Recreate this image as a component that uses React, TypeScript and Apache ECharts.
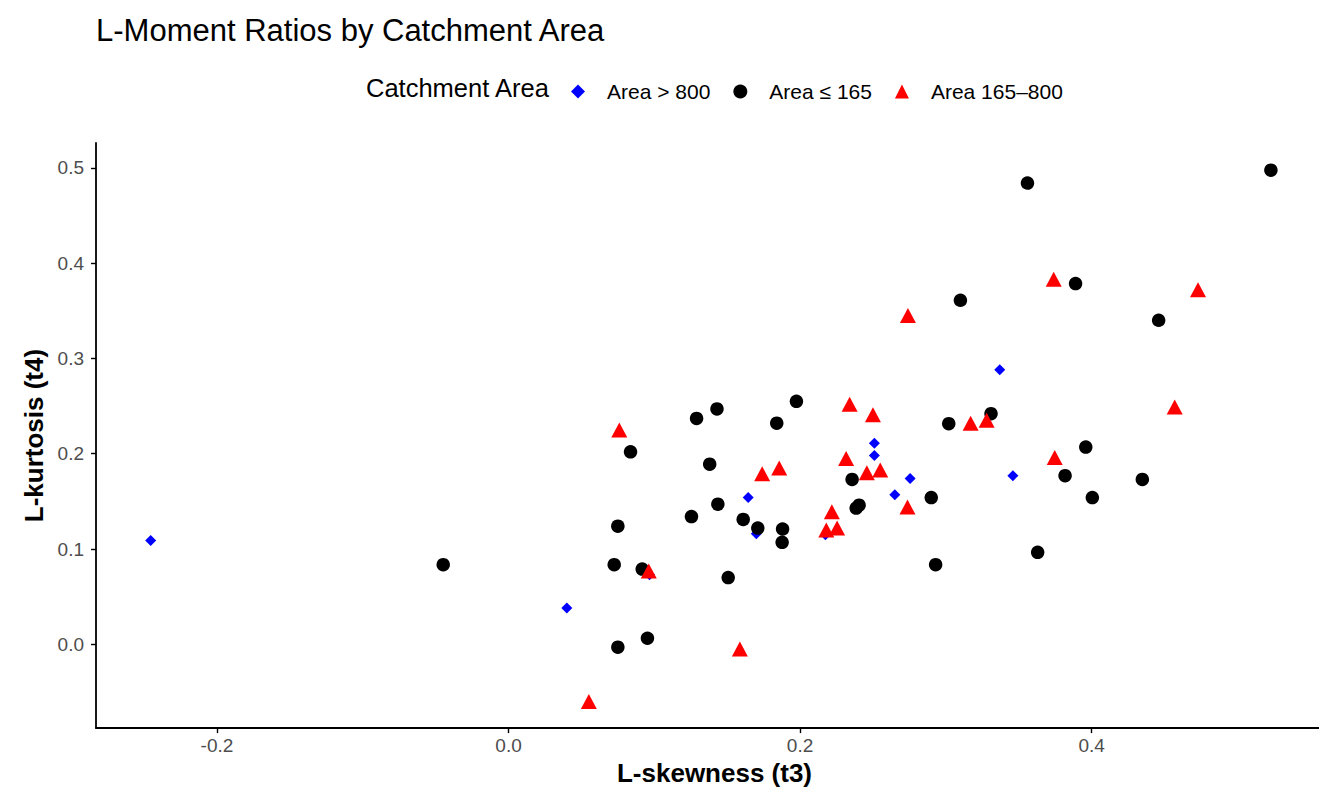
import React, { useEffect, useRef } from "react";
import * as echarts from "echarts";

const seriesNames = ["Area > 800", "Area ≤ 165", "Area 165–800"];

const largeArea: [number, number][] = [
  [-0.2455, 0.109], [0.04, 0.038], [0.0967, 0.073], [0.1644, 0.154],
  [0.17, 0.116], [0.2174, 0.115], [0.251, 0.211], [0.251, 0.198],
  [0.265, 0.157], [0.2755, 0.174], [0.337, 0.288], [0.346, 0.177],
];

const smallArea: [number, number][] = [
  [-0.0448, 0.0836], [0.0725, 0.0836], [0.075, 0.124], [0.075, -0.003],
  [0.0837, 0.202], [0.0917, 0.079], [0.0953, 0.0064], [0.1255, 0.134],
  [0.129, 0.237], [0.138, 0.189], [0.143, 0.247], [0.1436, 0.147],
  [0.1507, 0.07], [0.161, 0.131], [0.171, 0.122], [0.184, 0.232],
  [0.188, 0.121], [0.1877, 0.107], [0.1975, 0.255], [0.2357, 0.173],
  [0.2385, 0.143], [0.2405, 0.146], [0.29, 0.154], [0.293, 0.0836],
  [0.302, 0.2315], [0.31, 0.361], [0.331, 0.242], [0.356, 0.484],
  [0.363, 0.0965], [0.3818, 0.177], [0.389, 0.3785], [0.396, 0.207],
  [0.4005, 0.154], [0.4348, 0.173], [0.446, 0.34], [0.523, 0.4975],
];

const midArea: [number, number][] = [
  [0.0551, -0.06], [0.076, 0.225], [0.0962, 0.077], [0.1587, -0.005],
  [0.174, 0.179], [0.1857, 0.185], [0.218, 0.12], [0.2254, 0.122],
  [0.2218, 0.139], [0.2316, 0.195], [0.234, 0.252], [0.2458, 0.18],
  [0.25, 0.241], [0.255, 0.183], [0.2737, 0.144], [0.274, 0.345],
  [0.317, 0.232], [0.328, 0.235], [0.3747, 0.196], [0.374, 0.383],
  [0.457, 0.249], [0.473, 0.372],
];

const xTicks = [-0.2, 0.0, 0.2, 0.4];
const yTicks = [0.0, 0.1, 0.2, 0.3, 0.4, 0.5];

const FONT = "Liberation Sans, Arial, sans-serif";

export default function App() {
  const ref = useRef<HTMLDivElement>(null);
  useEffect(() => {
    if (!ref.current) return;
    const chart = echarts.init(ref.current, undefined, { renderer: "svg" });
    const axisCommon = {
      type: "value" as const,
      splitLine: { show: false },
      axisLine: { show: true, onZero: false, lineStyle: { color: "#000", width: 1.8 } },
      axisTick: { show: true, length: 5, lineStyle: { color: "#000", width: 1.4 } },
      nameLocation: "middle" as const,
    };
    const nameStyle = { fontFamily: FONT, fontSize: 26, fontWeight: "bold" as const, color: "#000" };
    chart.setOption({
      animation: false,
      backgroundColor: "#fff",
      textStyle: { fontFamily: FONT },
      title: {
        text: "L-Moment Ratios by Catchment Area",
        left: 91,
        top: 10,
        textStyle: { fontFamily: FONT, fontSize: 31, fontWeight: "normal", color: "#000" },
      },
      graphic: [
        {
          type: "text",
          left: 366,
          top: 75,
          style: { text: "Catchment Area", fontFamily: FONT, fontSize: 25.5, fill: "#000" },
        },
      ],
      legend: {
        left: 566,
        top: 76,
        itemGap: 23,
        itemWidth: 14,
        itemHeight: 14,
        symbolKeepAspect: true,
        textStyle: { fontFamily: FONT, fontSize: 21, color: "#000", padding: [0, 0, 0, 17] },
        data: [
          { name: seriesNames[0], icon: "diamond", itemStyle: { color: "#0000FF" } },
          { name: seriesNames[1], icon: "circle", itemStyle: { color: "#000" } },
          { name: seriesNames[2], icon: "triangle", itemStyle: { color: "#FF0000" } },
        ],
      },
      grid: { left: 96, right: 0, top: 143, bottom: 62, containLabel: false },
      xAxis: {
        ...axisCommon,
        min: -0.283,
        max: 0.556,
        name: "L-skewness (t3)",
        nameGap: 30,
        nameTextStyle: { ...nameStyle, padding: [0, 0, 0, 14] },
        axisTick: { ...axisCommon.axisTick, customValues: xTicks },
        axisLabel: {
          customValues: xTicks,
          formatter: (v: number) => v.toFixed(1),
          color: "#4d4d4d",
          fontSize: 19,
          fontFamily: FONT,
          margin: 8,
        },
      },
      yAxis: {
        ...axisCommon,
        min: -0.0879,
        max: 0.526,
        name: "L-kurtosis (t4)",
        nameGap: 47,
        nameTextStyle: nameStyle,
        axisTick: { ...axisCommon.axisTick, customValues: yTicks },
        axisLabel: {
          customValues: yTicks,
          formatter: (v: number) => v.toFixed(1),
          color: "#4d4d4d",
          fontSize: 19,
          fontFamily: FONT,
          margin: 12,
        },
      },
      series: [
        {
          name: seriesNames[0],
          type: "scatter",
          symbol: "diamond",
          symbolSize: 11,
          itemStyle: { color: "#0000FF", opacity: 1 },
          data: largeArea,
        },
        {
          name: seriesNames[1],
          type: "scatter",
          symbol: "circle",
          symbolSize: 13.5,
          itemStyle: { color: "#000", opacity: 1 },
          data: smallArea,
        },
        {
          name: seriesNames[2],
          type: "scatter",
          symbol: "triangle",
          symbolSize: [16, 15],
          itemStyle: { color: "#FF0000", opacity: 1 },
          data: midArea,
        },
      ],
    });
    return () => chart.dispose();
  }, []);
  return (
    <div
      ref={ref}
      style={{ position: "absolute", left: 0, top: 0, width: 1319, height: 791 }}
    />
  );
}
